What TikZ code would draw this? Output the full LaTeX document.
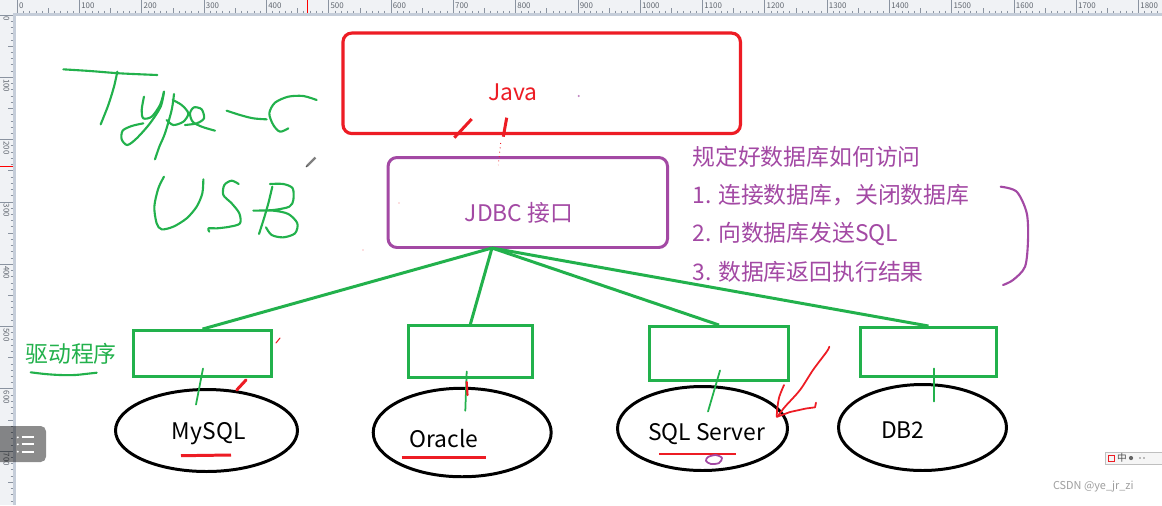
\documentclass[tikz,border=0pt]{standalone}
\usepackage{fontspec}
\setmainfont{Noto Sans CJK SC}
\usepackage{tikz}
\usetikzlibrary{shapes.geometric,positioning,calc}
\definecolor{javared}{HTML}{ED1C24}
\definecolor{jdbcpurple}{HTML}{A349A4}
\definecolor{drvgreen}{HTML}{22B14C}
\definecolor{rulerbg}{HTML}{F0F2F5}
\definecolor{rulerbar}{HTML}{C5CDD9}
\definecolor{rulertick}{HTML}{8A93A0}

\begin{document}
\begin{tikzpicture}[
  x=0.02cm, y=-0.02cm,
  every node/.style={inner sep=0pt, font=\fontsize{13}{15}\selectfont},
  javabox/.style={draw=javared, line width=1.8pt, rounded corners=5pt, minimum width=7.95cm, minimum height=2.01cm},
  apibox/.style={draw=jdbcpurple, line width=1.7pt, rounded corners=5pt, minimum width=5.59cm, minimum height=1.8cm},
  drvbox/.style={draw=drvgreen, line width=1.7pt},
  dbell/.style={draw, ellipse, line width=1.7pt},
  drvline/.style={drvgreen, line width=1.7pt},
  pen/.style={line width=1pt, line cap=round, line join=round},
  note/.style={anchor=west, text=jdbcpurple},
  rtick/.style={rulertick, line width=0.4pt},
  rulernum/.style={font=\fontsize{4.5}{5}\selectfont, text=rulertick!70!black}
]
\useasboundingbox (0,0) rectangle (1162,505);
\fill[white] (0,0) rectangle (1162,505);

% rulers
\fill[rulerbg] (0,0) rectangle (1162,13);
\fill[rulerbg] (0,0) rectangle (13,505);
\fill[rulerbar] (13,13) rectangle (1162,16);
\fill[rulerbar] (13,13) rectangle (16,505);
\foreach \k in {0,...,18} {
  \pgfmathsetmacro\rx{17.2+62.3*\k}
  \pgfmathtruncatemacro\rlab{100*\k}
  \draw[rtick] (\rx,0) -- (\rx,13);
  \node[rulernum, anchor=west] at (\rx+1.5,5.5) {\rlab};
  \foreach \m in {1,...,9} {
    \pgfmathsetmacro\ry{\m==5 ? 8 : 10.5}
    \draw[rtick] (\rx+6.23*\m,\ry) -- (\rx+6.23*\m,13);
  }
}
\foreach \k in {0,...,7} {
  \pgfmathsetmacro\ry{15+62.3*\k}
  \pgfmathtruncatemacro\rlab{100*\k}
  \draw[rtick] (0,\ry) -- (13,\ry);
  \node[rulernum, rotate=-90, anchor=west] at (6.5,\ry+1.5) {\rlab};
  \foreach \m in {1,...,9} {
    \pgfmathsetmacro\rx{\m==5 ? 8 : 10.5}
    \draw[rtick] (\rx,\ry+6.23*\m) -- (13,\ry+6.23*\m);
  }
}
\draw[red, line width=0.8pt] (307.3,0) -- (307.3,13);
\draw[red, line width=0.8pt] (0,166.7) -- (13,166.7);

% Java and the JDBC layer
\node[javabox] (java) at (541.7,83.3) {};
\node[text=javared] (javatxt) at (513,92) {Java};
\node[apibox] (jdbc) at (527.8,202.5) {};
\node[text=jdbcpurple] (jdbctxt) at (519,212.5) {JDBC 接口};

\draw[javared, line width=1.7pt] (471.7,119) -- (454.3,137.7);
\draw[javared, line width=1.7pt] (506.7,117.7) -- (503.3,136.7);
\draw[javared, line width=0.5pt, dotted] (500.7,143) -- (498.3,165);
\fill[jdbcpurple!70] (578.7,96) circle (0.6pt);
\fill[javared!60] (399,203) circle (0.4pt);
\fill[javared!60] (363,250) circle (0.4pt);

\node[note] (rule0) at (692,157) {规定好数据库如何访问};
\node[note] (rule1) at (692,195) {1. 连接数据库，关闭数据库};
\node[note] (rule2) at (692,233.5) {2. 向数据库发送SQL};
\node[note] (rule3) at (692,271.5) {3. 数据库返回执行结果};
\draw[jdbcpurple, pen, line width=1.2pt] plot[smooth] coordinates
  {(1000.7,186.7) (1016.7,191.7) (1026.7,213) (1028,240) (1025,266.7) (1013,280) (1003,285)};

% drivers and databases
\node[drvbox, minimum width=2.76cm, minimum height=0.91cm] (mysqldrv) at (202.5,353.3) {};
\node[drvbox, minimum width=2.49cm, minimum height=1.03cm] (oracledrv) at (470.3,351.7) {};
\node[drvbox, minimum width=2.78cm, minimum height=1.08cm] (sqlsrvdrv) at (719,353.5) {};
\node[drvbox, minimum width=2.72cm, minimum height=0.98cm] (db2drv) at (928.5,352) {};

\node[dbell, minimum width=3.64cm, minimum height=1.64cm] (mysql) at (206.5,430.5) {};
\node[dbell, minimum width=3.56cm, minimum height=1.77cm] (oracle) at (462.2,432.5) {};
\node[dbell, minimum width=3.4cm, minimum height=1.68cm] (sqlsrv) at (702.5,428.5) {};
\node[dbell, minimum width=3.36cm, minimum height=1.72cm] (db2) at (922.5,427.5) {};
\node (mysqltxt) at (208.7,434) {MySQL};
\node (oracletxt) at (444,439) {Oracle};
\node (sqlsrvtxt) at (706.7,434.5) {SQL Server};
\node (db2txt) at (902.8,430.5) {DB2};

\coordinate (hub) at (492,248);
\foreach \d in {mysqldrv, oracledrv, sqlsrvdrv, db2drv}
  \draw[drvline] (hub) -- (\d.north);
\foreach \d/\e/\ax/\ay/\bx/\by in {mysqldrv/mysql/0.5/-9/-10.5/16.5, oracledrv/oracle/-3.6/-7.5/3.1/24,
    sqlsrvdrv/sqlsrv/1/-11.5/5.5/26.5, db2drv/db2/5.5/-9.5/11.5/18.5}
  \draw[drvgreen, pen] ([shift={(\ax,\ay)}]\d.south) -- ([shift={(\bx,\by)}]\e.north);

\node[text=drvgreen, anchor=west] (drvtxt) at (25,353.3) {驱动程序};
\draw[drvgreen, pen, line width=1.2pt] plot[smooth] coordinates
  {(30.7,372.3) (45,374) (60,375) (75,375) (85,374) (96.7,372.7)};

% red and purple marks
\draw[javared, pen, line width=1.7pt] (236.7,390) -- (246,380);
\draw[javared, pen, line width=0.6pt] (276,343) -- (280,338);
\draw[javared, pen, line width=1.2pt] (466.7,382) -- (467.5,395);
\draw[javared, line width=1.7pt] (181,455.7) -- (231,455);
\draw[javared, line width=1.7pt] (401.7,457.3) -- (486,457.3);
\draw[javared, line width=1.2pt] (659,453.7) -- (736,453.7);
\draw[jdbcpurple, pen] plot[smooth cycle] coordinates
  {(708,457) (716,455) (722,458) (719,463) (711,464) (706,461)};
\draw[javared, pen] plot[smooth] coordinates
  {(829.3,346.7) (826.7,351.7) (813,370) (800,390) (785,406.7) (777.3,416.7)};
\draw[javared, pen] (777.3,416.7) -- (790,412) -- (806,408.5) -- (815,407.3) -- (816,402.7);
\draw[javared, pen] plot[smooth] coordinates
  {(784,385) (779.3,396.7) (777.3,408.3) (776.7,416.7)};

% handwriting
\begin{scope}[shift={(40,60)}, scale=1/3, drvgreen, pen, line width=1.2pt]
  \draw plot[smooth] coordinates {(70,28) (150,33) (240,40) (352,45)};
  \draw plot[smooth] coordinates {(232,35) (222,80) (205,135) (182,193)};
  \draw plot[smooth] coordinates {(312,110) (305,150) (310,175) (335,170) (360,135) (372,95)};
  \draw plot[smooth] coordinates {(372,95) (362,140) (330,190) (290,235) (262,255) (245,238) (248,212) (275,198) (310,190)};
  \draw plot[smooth] coordinates {(402,102) (395,150) (375,220) (358,260) (345,298)};
  \draw plot[smooth] coordinates {(398,120) (425,135) (445,160) (430,185) (400,195) (380,180)};
  \draw plot[smooth] coordinates {(435,195) (470,190) (492,175) (485,148) (462,142) (450,160) (458,185) (485,200) (525,212)};
  \draw plot[smooth] coordinates {(560,152) (600,165) (640,175) (680,178)};
  \draw plot[smooth] coordinates {(830,120) (790,108) (745,110) (705,128) (688,160) (700,195) (720,215) (745,205)};
  \draw plot[smooth] coordinates {(372,350) (355,385) (343,440) (350,490) (365,508) (400,500) (440,475) (470,440) (487,400) (490,358)};
  \draw plot[smooth] coordinates {(596,372) (575,362) (553,375) (550,405) (575,430) (598,460) (600,490) (570,500) (530,505) (505,505) (508,515)};
  \draw plot[smooth] coordinates {(697,380) (685,430) (672,475) (657,522)};
  \draw plot[smooth] coordinates {(690,372) (730,372) (758,385) (760,420) (748,440) (700,450) (640,452) (700,452) (745,462) (772,490) (765,520) (730,532) (695,525) (678,502)};
\end{scope}
\draw[gray, line width=1.3pt] (307,166) -- (315.5,157.5);
\draw[black!70, line width=0.5pt] (306,167) -- (307.5,165.5);

% overlay and status bits
\fill[black, opacity=0.45, rounded corners=3pt] (-5,426) rectangle (46,462);
\foreach \yy in {437.3, 444.3, 451.7} {
  \draw[white, line width=1.1pt] (21.7,\yy) -- (34.3,\yy);
  \fill[white] (17.8,\yy) circle (0.6pt);
}
\draw[gray!50, fill=gray!8] (1105.7,452.3) rectangle (1170,464);
\draw[javared, line width=0.5pt] (1108,455) rectangle (1114,461);
\node[font=\fontsize{5.5}{6}\selectfont, text=black!70] (imezh) at (1122,458) {中};
\fill[black!60] (1131,458) circle (1.2pt);
\fill[black!50] (1140,458) circle (0.5pt);
\fill[black!50] (1144,458) circle (0.5pt);
\node[anchor=west, text=gray!75, font=\fontsize{6.2}{7}\selectfont] (csdn) at (1052.7,486.7) {CSDN @ye\_jr\_zi};
\end{tikzpicture}
\end{document}
